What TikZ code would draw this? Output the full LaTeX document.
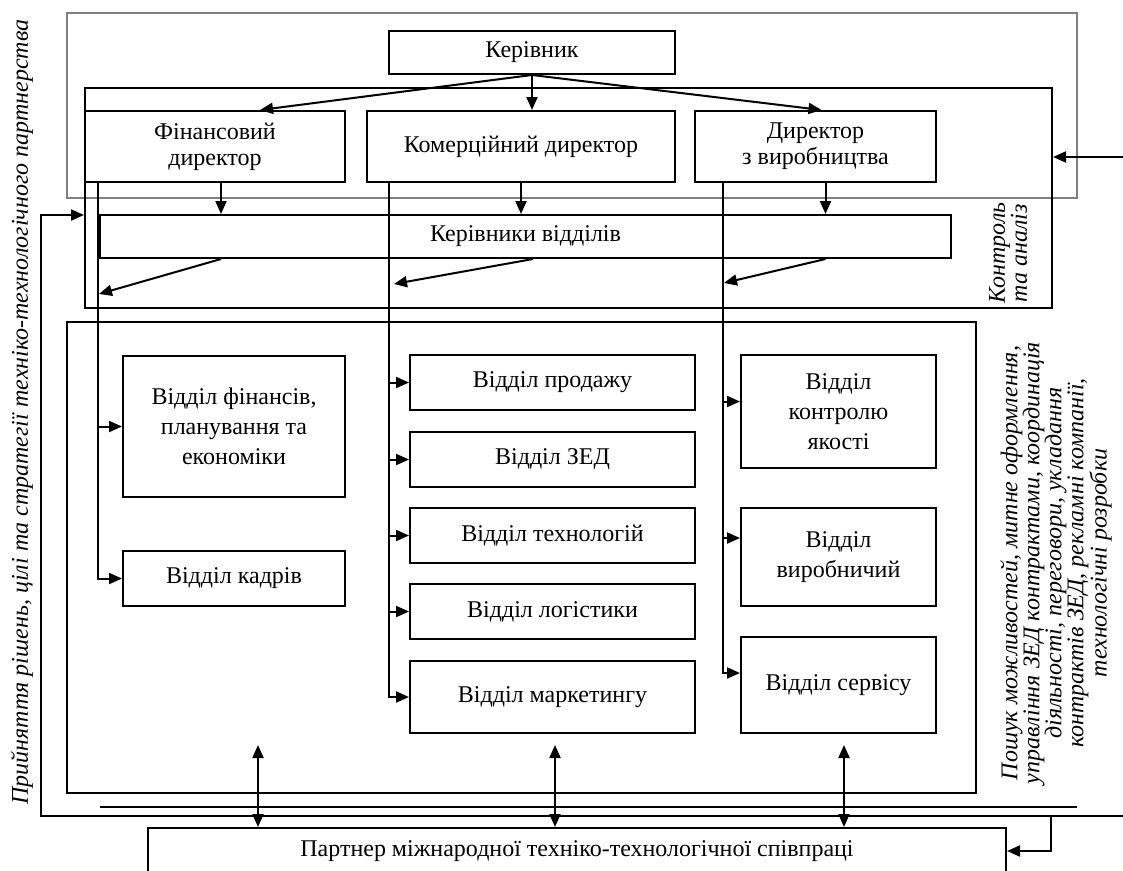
\documentclass[tikz,border=0pt]{standalone}
\usepackage{fontspec}
\setmainfont{Liberation Serif}
\usepackage{tikz}
\usetikzlibrary{arrows.meta,calc}
\definecolor{ink}{RGB}{0,0,0}
\definecolor{rim}{RGB}{128,128,128}
\tikzset{
  unit/.style={draw=ink, line width=2pt, rectangle, inner sep=2pt, align=center,
               font=\fontsize{24}{26}\selectfont},
  dept/.style={unit, font=\fontsize{24}{30}\selectfont},
  pane/.style={draw=ink, line width=2pt, rectangle, inner sep=0pt},
  side/.style={rotate=90, align=center, inner sep=0pt,
               font=\itshape\fontsize{24}{22}\selectfont},
  arr/.style={-{Triangle[length=13pt,width=11pt]}, line width=2pt, draw=ink},
  dbl/.style={{Triangle[length=13pt,width=11pt]}-{Triangle[length=13pt,width=11pt]},
              line width=2pt, draw=ink},
  wire/.style={line width=2pt, draw=ink}
}

\begin{document}
\begin{tikzpicture}[x=1pt,y=-1pt]
  \clip (0,0) rectangle (1123,870);

  % frames
  \node[pane, draw=rim, minimum width=1010, minimum height=185] (top) at (572,105.5) {};
  \node[pane, minimum width=967, minimum height=220] (ctrl) at (568.5,198) {};
  \node[pane, minimum width=909, minimum height=471] (depts) at (521.5,557.5) {};

  % management
  \node[unit, minimum width=286, minimum height=43] (boss) at (532,52.5) {Керівник};
  \node[unit, minimum width=260, minimum height=71] (fin) at (215,146.5) {Фінансовий\\директор};
  \node[unit, minimum width=308, minimum height=71] (com) at (521,146.5) {Комерційний директор};
  \node[unit, minimum width=241, minimum height=71] (prod) at (815.5,146.5) {Директор\\з виробництва};
  \node[unit, minimum width=851, minimum height=43] (heads) at (525.5,236.5) {Керівники відділів};

  % departments
  \node[dept, minimum width=222, minimum height=141] (finance) at (234,426.5) {Відділ фінансів,\\планування та\\економіки};
  \node[dept, minimum width=222, minimum height=55] (hr) at (234,578.5) {Відділ кадрів};
  \node[dept, minimum width=285, minimum height=55] (sales) at (552.5,382.5) {Відділ продажу};
  \node[dept, minimum width=285, minimum height=55] (zed) at (552.5,459.5) {Відділ ЗЕД};
  \node[dept, minimum width=285, minimum height=55] (tech) at (552.5,535.5) {Відділ технологій};
  \node[dept, minimum width=285, minimum height=55] (logi) at (552.5,611.5) {Відділ логістики};
  \node[dept, minimum width=285, minimum height=72] (mkt) at (552.5,697) {Відділ маркетингу};
  \node[dept, minimum width=195, minimum height=113] (quality) at (838.5,411.5) {Відділ\\контролю\\якості};
  \node[dept, minimum width=195, minimum height=98] (prodn) at (838.5,557) {Відділ\\виробничий};
  \node[dept, minimum width=195, minimum height=96] (service) at (838.5,685) {Відділ сервісу};

  % partner
  \node[unit, minimum width=858, minimum height=46] (partner) at (577,851) {Партнер міжнародної техніко-технологічної співпраці};

  % side notes
  \node[side] (goal) at (22,412) {Прийняття рішень, цілі та стратегії техніко-технологічного партнерства};
  \node[side] (check) at (1008,253) {Контроль\\та аналіз};
  \node[side] (tasks) at (1056,563) {Пошук можливостей, митне оформлення,\\управління ЗЕД контрактами, координація\\діяльності, переговори, укладання\\контрактів ЗЕД, рекламні компанії,\\технологічні розробки};

  % from the head
  \draw[arr] (boss.south) -- ($(fin.north)+(45,0)$);
  \draw[arr] (boss.south) -- (boss.south |- com.north);
  \draw[arr] (boss.south) -- ($(prod.north)+(6,0)$);

  % directors to heads of departments
  \coordinate (finDown) at ($(fin.south)+(6,0)$);
  \coordinate (comDown) at (com.south);
  \coordinate (prodDown) at ($(prod.south)+(10,0)$);
  \foreach \d in {finDown,comDown,prodDown}
    \draw[arr] (\d) -- (\d |- heads.north);

  % stems
  \coordinate (finStem) at ($(fin.south west)+(14,0)$);
  \coordinate (comStem) at ($(com.south west)+(23,0)$);
  \coordinate (prodStem) at ($(prod.south west)+(29,0)$);

  \draw[arr] (finDown |- heads.south) -- ($(finStem)+(1,111)$);
  \draw[arr] ($(comDown |- heads.south)+(12,0)$) -- ($(comStem)+(5,101)$);
  \draw[arr] (prodDown |- heads.south) -- ($(prodStem)+(1,100)$);

  \draw[arr] (finStem) |- (hr.west);
  \draw[arr] (finStem |- finance.west) -- (finance.west);

  \draw[arr] (comStem) |- (mkt.west);
  \foreach \d in {sales,zed,tech,logi}
    \draw[arr] (comStem |- \d.west) -- (\d.west);

  \coordinate (qIn) at ($(quality.west)+(0,-10)$);
  \coordinate (pIn) at ($(prodn.west)+(0,-19)$);
  \coordinate (sIn) at ($(service.west)+(0,-12)$);
  \draw[arr] (prodStem) |- (sIn);
  \foreach \d in {qIn,pIn}
    \draw[arr] (prodStem |- \d) -- (\d);

  % links with the partner
  \foreach \x/\n in {258/a,555/b,844/c} {
    \coordinate (up\n) at (\x,745);
    \draw[dbl] (up\n) -- (up\n |- partner.north);
  }

  \coordinate (railL) at (100,807);
  \coordinate (railR) at (1077,807);
  \draw[wire] (railL) -- (railR);

  \coordinate (edgeR) at (1123,816);
  \coordinate (loopL) at (41,215);
  \draw[arr] (edgeR) -| (loopL) -- (ctrl.west |- loopL);

  \coordinate (tap) at (1051,816);
  \draw[arr] (tap) |- (partner.east);

  \coordinate (edgeC) at (1123,157);
  \draw[arr] (edgeC) -- (edgeC -| ctrl.east);
\end{tikzpicture}
\end{document}
